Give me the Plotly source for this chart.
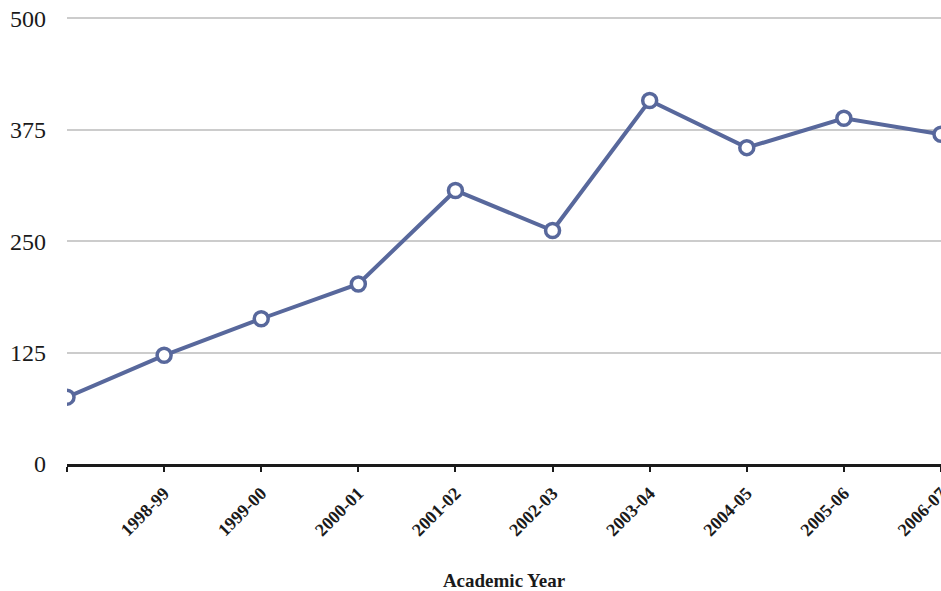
import plotly.graph_objects as go

# Academic years (first point has no printed label on the axis)
years = ["", "1998-99", "1999-00", "2000-01", "2001-02", "2002-03",
         "2003-04", "2004-05", "2005-06", "2006-07"]
values = [75, 122, 163, 202, 307, 262, 408, 355, 388, 370]
y_ticks = [0, 125, 250, 375, 500]

LINE_COLOR = "#58689c"
SERIF = "Liberation Serif, Times New Roman, serif"

positions = list(range(len(years)))

fig = go.Figure()
fig.add_trace(go.Scatter(
    x=positions,
    y=values,
    mode="lines+markers",
    line=dict(color=LINE_COLOR, width=4),
    marker=dict(size=14, color="white", line=dict(color=LINE_COLOR, width=3.5)),
    showlegend=False,
))

fig.update_layout(
    width=941, height=591,
    margin=dict(l=67, r=0, t=14, b=127),
    plot_bgcolor="white",
    paper_bgcolor="white",
    font=dict(family=SERIF, color="#1a1a1a"),
)

fig.update_xaxes(
    automargin=False,
    range=[0, len(years) - 1],
    tickmode="array",
    tickvals=positions,
    ticktext=["<b>%s</b>" % y if y else "" for y in years],
    tickangle=-45,
    tickfont=dict(size=18, family=SERIF, color="#1a1a1a"),
    ticklabeloverflow="allow",
    ticks="outside", ticklen=5, tickwidth=2, tickcolor="#1a1a1a",
    ticklabelstandoff=4,
    showline=True, linecolor="#1a1a1a", linewidth=2.5,
    showgrid=False, zeroline=False,
    title=dict(text="<b>Academic Year</b>", font=dict(size=19, family=SERIF), standoff=38),
)

fig.update_yaxes(
    automargin=False,
    range=[0, 505],
    tickmode="array",
    tickvals=y_ticks,
    tickfont=dict(size=24, family=SERIF, color="#1a1a1a"),
    ticklabeloverflow="allow",
    showgrid=True, gridcolor="#cccccc", gridwidth=1.5,
    zeroline=False, showline=False,
    ticks="", ticklabelstandoff=20,
)

# drop the browser's default 8px body margin so the figure fills the window
fig.write_html("out.html", config={"displayModeBar": False},
               post_script="document.body.style.margin = '0';")
